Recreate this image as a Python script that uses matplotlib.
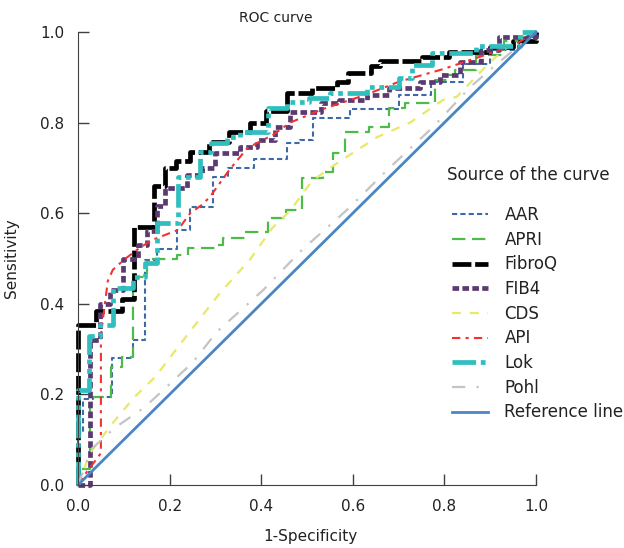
import matplotlib
matplotlib.use("Agg")
import matplotlib.pyplot as plt

# ROC curves (1-specificity, sensitivity)
aar_fpr = [0, 0, 0.01, 0.033, 0.074, 0.12, 0.146, 0.172, 0.216, 0.245, 0.295, 0.328, 0.385, 0.456, 0.485, 0.513, 0.594, 0.70, 0.77, 0.84, 0.90, 0.96, 1.0]
aar_tpr = [0, 0.115, 0.19, 0.195, 0.28, 0.32, 0.497, 0.52, 0.563, 0.614, 0.68, 0.70, 0.72, 0.755, 0.762, 0.81, 0.83, 0.86, 0.89, 0.93, 0.96, 0.99, 1.0]

apri_fpr = [0, 0, 0.026, 0.072, 0.096, 0.12, 0.15, 0.216, 0.24, 0.30, 0.317, 0.365, 0.415, 0.455, 0.49, 0.535, 0.557, 0.583, 0.635, 0.68, 0.715, 0.78, 0.806, 0.823, 0.87, 0.93, 1.0]
apri_tpr = [0, 0.035, 0.195, 0.26, 0.283, 0.46, 0.50, 0.508, 0.523, 0.53, 0.545, 0.558, 0.59, 0.607, 0.678, 0.69, 0.733, 0.78, 0.79, 0.833, 0.843, 0.894, 0.905, 0.916, 0.95, 0.98, 1.0]

fibroq_fpr = [0, 0, 0.04, 0.095, 0.122, 0.165, 0.19, 0.215, 0.245, 0.285, 0.33, 0.375, 0.41, 0.456, 0.51, 0.565, 0.59, 0.64, 0.66, 0.75, 0.81, 0.9, 0.95, 1.0]
fibroq_tpr = [0, 0.353, 0.384, 0.41, 0.57, 0.66, 0.70, 0.715, 0.735, 0.758, 0.78, 0.80, 0.825, 0.865, 0.876, 0.89, 0.91, 0.925, 0.935, 0.945, 0.956, 0.967, 0.98, 1.0]

fib4_fpr = [0, 0.026, 0.026, 0.048, 0.07, 0.098, 0.13, 0.15, 0.172, 0.19, 0.238, 0.27, 0.30, 0.354, 0.39, 0.43, 0.463, 0.53, 0.57, 0.63, 0.68, 0.747, 0.79, 0.834, 0.88, 0.92, 1.0]
fib4_tpr = [0, 0.07, 0.32, 0.40, 0.43, 0.50, 0.53, 0.56, 0.615, 0.655, 0.684, 0.70, 0.733, 0.746, 0.762, 0.79, 0.823, 0.843, 0.85, 0.86, 0.876, 0.89, 0.905, 0.934, 0.96, 0.99, 1.0]

cds_fpr = [0, 0.026, 0.076, 0.124, 0.168, 0.24, 0.31, 0.375, 0.424, 0.463, 0.51, 0.55, 0.653, 0.725, 0.797, 0.827, 0.9, 0.965, 1.0]
cds_tpr = [0, 0.07, 0.137, 0.195, 0.238, 0.333, 0.424, 0.497, 0.567, 0.605, 0.67, 0.70, 0.768, 0.80, 0.85, 0.857, 0.934, 0.99, 1.0]

api_fpr = [0, 0.02, 0.05, 0.05, 0.065, 0.076, 0.1, 0.13, 0.16, 0.218, 0.245, 0.27, 0.288, 0.33, 0.37, 0.426, 0.463, 0.535, 0.63, 0.70, 0.797, 0.906, 0.95, 1.0]
api_tpr = [0, 0.03, 0.07, 0.33, 0.45, 0.475, 0.497, 0.52, 0.54, 0.563, 0.60, 0.618, 0.636, 0.695, 0.744, 0.773, 0.80, 0.83, 0.862, 0.89, 0.918, 0.955, 0.97, 1.0]

lok_fpr = [0, 0, 0.024, 0.048, 0.077, 0.12, 0.146, 0.172, 0.218, 0.266, 0.29, 0.325, 0.354, 0.415, 0.456, 0.505, 0.55, 0.63, 0.70, 0.73, 0.773, 0.87, 0.965, 1.0]
lok_tpr = [0, 0.21, 0.33, 0.353, 0.435, 0.46, 0.49, 0.578, 0.68, 0.735, 0.755, 0.768, 0.78, 0.832, 0.845, 0.855, 0.865, 0.878, 0.898, 0.927, 0.953, 0.97, 1.0, 1.0]

pohl_fpr = [0, 0.03, 0.08, 0.146, 0.25, 0.303, 0.404, 0.49, 0.587, 0.68, 0.775, 0.856, 0.915, 1.0]
pohl_tpr = [0, 0.08, 0.126, 0.172, 0.27, 0.338, 0.43, 0.52, 0.607, 0.70, 0.79, 0.878, 0.93, 1.0]

ref_x = [0, 1]
ref_y = [0, 1]

ticks = [0.0, 0.2, 0.4, 0.6, 0.8, 1.0]

plt.rcParams['font.family'] = ['DejaVu Sans']
fig = plt.figure(figsize=(6.24, 5.48), dpi=100)
ax = fig.add_axes([78/624, 63/548, 458/624, 453/548])

ax.plot(aar_fpr, aar_tpr, drawstyle='steps-post', color='#3d6aa6', lw=1.5,
        dashes=(2.5, 1.5), label='AAR', clip_on=False)
ax.plot(apri_fpr, apri_tpr, drawstyle='steps-post', color='#4cbb47', lw=1.6,
        dashes=(6, 3), label='APRI', clip_on=False)
ax.plot(fibroq_fpr, fibroq_tpr, drawstyle='steps-post', color='black', lw=3.4,
        dashes=(4, 0.8), label='FibroQ', clip_on=False)
ax.plot(fib4_fpr, fib4_tpr, drawstyle='steps-post', color='#5b3a72', lw=3.4,
        dashes=(1.4, 0.7), label='FIB4', clip_on=False)
ax.plot(cds_fpr, cds_tpr, color='#e8e86a', lw=1.6, dashes=(4, 4),
        label='CDS', clip_on=False)
ax.plot(api_fpr, api_tpr, color='#f03232', lw=1.5, dashes=(4, 2.5, 1.5, 2.5),
        label='API', clip_on=False)
ax.plot(lok_fpr, lok_tpr, drawstyle='steps-post', color='#2fbfbf', lw=3.4,
        dashes=(5, 1, 1, 1, 1, 1), label='Lok', clip_on=False)
ax.plot(pohl_fpr, pohl_tpr, color='#c4c4c4', lw=1.6, dashes=(6, 5, 1, 5),
        label='Pohl', clip_on=False)
ax.plot(ref_x, ref_y, color='#4a86c4', lw=2, label='Reference line', clip_on=False)

ax.set_xlim(0, 1)
ax.set_ylim(0, 1)
ax.set_xticks(ticks)
ax.set_yticks(ticks)
ax.set_xticklabels(['%.1f' % t for t in ticks])
ax.set_yticklabels(['%.1f' % t for t in ticks])
ax.tick_params(direction='in', length=8, width=1, color='#404040',
               labelsize=11, labelcolor='#222222', pad=10)
for s in ['top', 'right']:
    ax.spines[s].set_visible(False)
for s in ['left', 'bottom']:
    ax.spines[s].set_color('#404040')

fig.text(12/624, 1 - 258/548, 'Sensitivity', rotation=90, ha='center', va='center',
         fontsize=11, color='#222222')
fig.text(310/624, 1 - 536/548, '1-Specificity', ha='center', va='center',
         fontsize=11, color='#222222')
fig.text(276/624, 1 - 18/548, 'ROC curve', ha='center', va='center',
         fontsize=10, color='#222222')
fig.text(447/624, 1 - 175/548, 'Source of the curve', ha='left', va='center',
         fontsize=12, color='#222222')

leg = ax.legend(loc='upper left', bbox_to_anchor=(452/624, 1 - 206/548),
                bbox_transform=fig.transFigure, frameon=False, fontsize=12,
                handlelength=2.15, handletextpad=1.0, labelspacing=0.40,
                borderpad=0, borderaxespad=0)
for t in leg.get_texts():
    t.set_color('#222222')

fig.savefig('out.png', dpi=100)
